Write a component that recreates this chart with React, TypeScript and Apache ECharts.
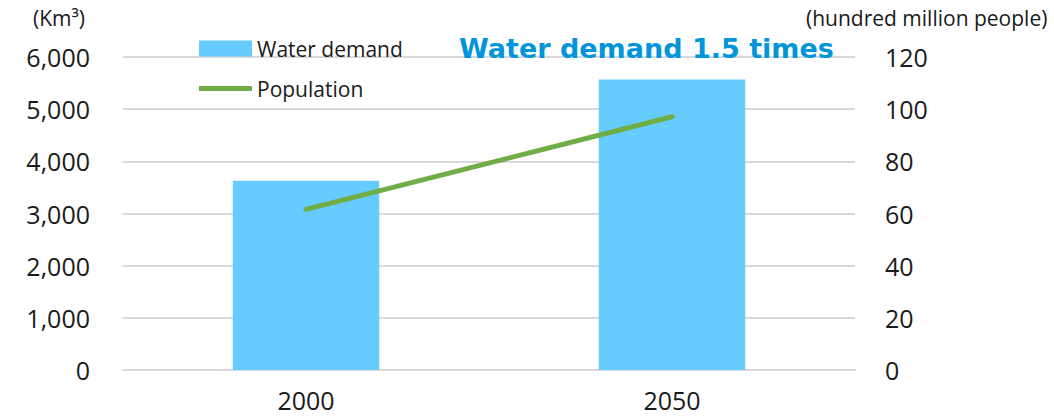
import React, { useEffect, useRef } from "react";
import * as echarts from "echarts";

const categories = ["2000", "2050"];
const waterDemand = [3630, 5570];
const population = [61.6, 97.1];
const leftTicks = { min: 0, max: 6000, interval: 1000 };
const rightTicks = { min: 0, max: 120, interval: 20 };

const FONT = "'Open Sans', 'Noto Sans', sans-serif";
const TXT = "#1a1a1a";

export default function App() {
  const ref = useRef<HTMLDivElement>(null);
  useEffect(() => {
    if (!ref.current) return;
    const chart = echarts.init(ref.current, null, { renderer: "svg" });
    chart.setOption({
      animation: false,
      textStyle: { fontFamily: FONT },
      title: {
        text: "Water demand 1.5 times",
        left: 454,
        top: 30,
        textStyle: { fontFamily: "'DejaVu Sans', sans-serif", fontWeight: "bold", fontSize: 27, color: "#0096D9" },
      },
      legend: {
        orient: "vertical",
        left: 194,
        top: 33,
        itemWidth: 53,
        itemHeight: 16,
        itemGap: 19,
        textStyle: { fontFamily: FONT, fontSize: 21, color: TXT },
        data: [
          { name: "Water demand", icon: "rect" },
          { name: "Population", icon: "path://M0,0 L53,0 L53,5 L0,5 Z" },
        ],
      },
      grid: { left: 123, right: 199, top: 57, bottom: 46, containLabel: false },
      xAxis: {
        type: "category",
        data: categories,
        axisLine: { lineStyle: { color: "#d9d9d9", width: 2 } },
        axisTick: { show: false },
        axisLabel: { fontFamily: FONT, fontSize: 25, color: TXT, margin: 17 },
      },
      yAxis: [
        {
          type: "value",
          ...leftTicks,
          name: "(Km³)",
          nameLocation: "end",
          nameGap: 39,
          nameTextStyle: { fontFamily: FONT, fontSize: 21, color: TXT, align: "right", verticalAlign: "middle", padding: [0, 38, 0, 0] },
          axisLine: { show: false },
          axisTick: { show: false },
          splitLine: { lineStyle: { color: "#d9d9d9", width: 2 } },
          axisLabel: {
            fontFamily: FONT,
            fontSize: 25,
            color: TXT,
            margin: 33,
            formatter: (v: number) => v.toLocaleString("en-US"),
          },
        },
        {
          type: "value",
          ...rightTicks,
          name: "(hundred million people)",
          nameLocation: "end",
          nameGap: 39,
          nameTextStyle: { fontFamily: FONT, fontSize: 21, color: TXT, align: "left", verticalAlign: "middle", padding: [0, 0, 0, -49] },
          axisLine: { show: false },
          axisTick: { show: false },
          splitLine: { show: false },
          axisLabel: { fontFamily: FONT, fontSize: 25, color: TXT, margin: 30 },
        },
      ],
      series: [
        {
          name: "Water demand",
          type: "bar",
          data: waterDemand,
          barWidth: "40%",
          itemStyle: { color: "#66CCFF" },
        },
        {
          name: "Population",
          type: "line",
          yAxisIndex: 1,
          data: population,
          symbol: "none",
          lineStyle: { color: "#70AD47", width: 5, cap: "round" },
          itemStyle: { color: "#70AD47" },
        },
      ],
    });
    return () => chart.dispose();
  }, []);
  return <div ref={ref} style={{ position: "absolute", left: 0, top: 0, width: 1054, height: 416 }} />;
}
